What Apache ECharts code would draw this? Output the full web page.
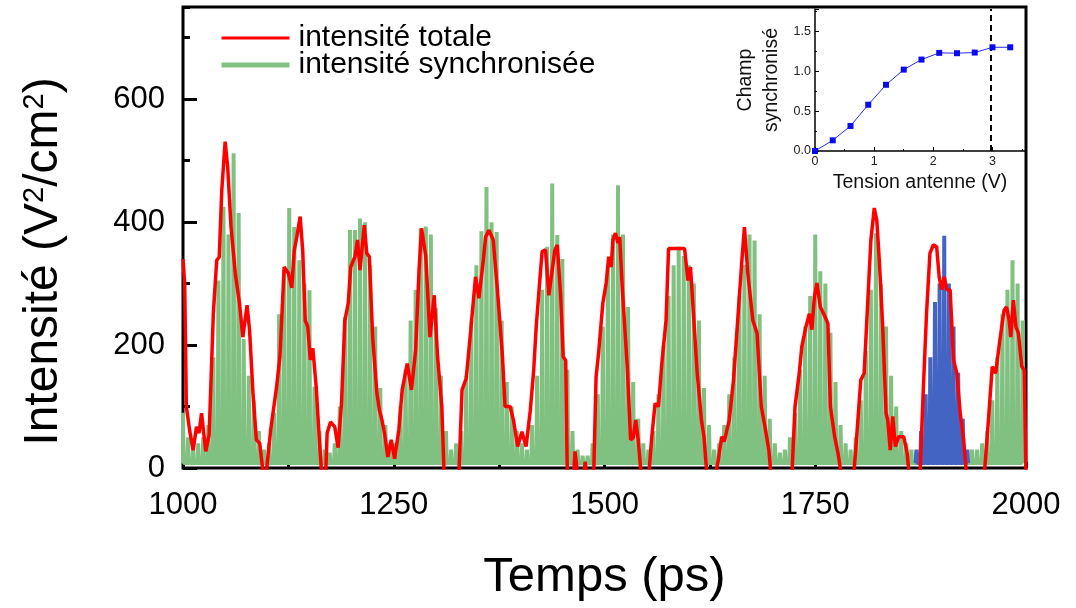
<!DOCTYPE html>
<html><head><meta charset="utf-8">
<script src="https://cdn.jsdelivr.net/npm/echarts@6/dist/echarts.min.js"></script>
<style>html,body{margin:0;padding:0;background:#fff}#c{width:1076px;height:608px}</style>
</head><body><div id="c"></div>
<script>
// ---------- main chart data ----------
const redTime = [1000,1002,1004,1008,1012,1016,1019,1022,1027,1031,1036,1040,1043,1046,1050,1053,1057,1062,1067,1071,1076,1079,1083,1087,1091,1095,1099,1104,1111,1115,1120,1125,1129,1132,1135,1139,1142,1145,1148,1151,1154,1158,1162,1165,1169,1171,1175,1180,1184,1188,1192,1196,1199,1204,1207,1210,1215,1218,1221,1225,1230,1233,1236,1239,1243,1247,1251,1256,1260,1266,1271,1276,1280,1283,1288,1293,1298,1302,1307,1310,1327,1331,1336,1341,1347,1351,1356,1359,1363,1368,1373,1379,1382,1388,1392,1397,1402,1407,1412,1416,1419,1423,1426,1430,1434,1438,1441,1444,1448,1451,1454,1456,1463,1465,1469,1475,1477,1480,1487,1490,1493,1498,1502,1505,1508,1510,1513,1516,1518,1521,1527,1531,1534,1537,1540,1544,1552,1556,1560,1564,1568,1573,1576,1595,1599,1602,1605,1610,1615,1618,1622,1630,1635,1639,1642,1648,1653,1658,1663,1666,1670,1676,1681,1686,1691,1695,1698,1722,1726,1731,1734,1739,1743,1746,1749,1752,1756,1760,1765,1768,1773,1777,1782,1795,1798,1804,1808,1812,1816,1820,1823,1826,1830,1834,1836,1839,1842,1845,1849,1855,1859,1862,1874,1878,1882,1886,1890,1894,1897,1900,1903,1906,1910,1914,1918,1922,1926,1930,1950,1954,1960,1964,1969,1974,1977,1980,1982,1985,1988,1991,1995,1998,2000];
const redValue = [340,300,100,60,29,67,57,89,27,54,252,338,343,452,531,490,392,317,268,213,265,224,122,46,40,-8,-5,62,132,181,327,317,293,354,376,409,354,240,230,176,195,132,40,-20,-20,57,75,67,33,105,240,268,327,344,371,322,395,349,344,213,122,94,78,57,18,46,15,62,127,170,127,192,322,390,344,213,281,181,100,-20,-20,127,146,219,311,276,335,376,387,371,289,181,100,100,78,35,59,35,94,159,230,301,352,355,281,322,354,363,279,181,175,-20,-20,27,-20,-20,10,-20,-20,148,187,268,301,344,327,371,382,366,376,295,165,46,49,78,46,-20,-20,49,105,100,170,240,357,357,305,327,262,154,78,51,-20,-20,13,51,43,78,143,240,338,392,317,240,219,100,62,29,-20,-20,100,154,197,230,251,225,279,301,262,251,235,100,51,24,-20,-20,29,143,154,262,371,423,403,338,230,89,78,29,84,35,51,51,24,-20,-20,122,251,349,363,360,311,290,311,290,290,176,154,89,46,-20,-20,51,165,154,208,257,262,240,213,273,230,219,165,159,-20];

const greenStart = 1000;   // ps, first spike
const greenStep = 6;       // ps between spikes
const greenTrough = 8;     // floor between spikes
const greenPeaks = [
  // 1000 - 1054
  90,50,30,40,50,70,180,305,425,380,
  // 1060 - 1114
  512,415,210,150,110,60,30,40,90,250,
  // 1120 - 1174
  322,423,392,338,300,289,132,60,30,25,
  // 1180 - 1234
  40,100,246,387,387,406,400,330,230,130,
  // 1240 - 1294
  70,40,40,100,160,240,290,390,393,380,
  // 1300 - 1354
  260,150,60,30,40,60,150,240,330,385,
  // 1360 - 1414
  457,400,384,240,140,100,60,40,30,70,
  // 1420 - 1474
  150,290,360,463,379,340,160,60,30,20,
  // 1480 - 1534
  20,40,120,230,330,380,460,380,262,140,
  // 1540 - 1594
  80,40,30,60,120,200,280,330,360,345,
  // 1600 - 1654
  330,300,240,130,70,30,40,70,120,180,
  // 1660 - 1714
  280,330,380,370,250,150,80,40,25,30,
  // 1720 - 1774
  50,90,160,230,280,380,320,300,220,140,
  // 1780 - 1834
  70,40,30,50,110,190,290,382,300,230,
  // 1840 - 1894
  150,100,60,40,30,25,12,12,12,12,
  // 1900 - 1954
  12,12,12,12,12,12,30,30,40,60,
  // 1960 - 1996
  110,180,250,290,338,300,240
];

const blueStart = 1870;
const blueStep = 5.5;
const blueTrough = 8;
const bluePeaks = [30,60,120,180,270,300,378,300,230,155,80,30];

const spikeHalfWidth = 0.8;  // ps, half width of one oscillation spike
const xTickStep = 250;
const yTickStep = 200;

// ---------- inset data ----------
const insetVoltage = [0,0.3,0.6,0.9,1.2,1.5,1.8,2.1,2.4,2.7,3.0,3.3];
const insetField = [0,0.134,0.314,0.58,0.83,1.02,1.146,1.23,1.226,1.234,1.30,1.30];
const insetThreshold = 2.97;

// ---------- build series data ----------
function spikes(start, step, peaks, trough) {
  const out = [];
  peaks.forEach((p, i) => {
    const t = start + i * step;
    out.push([t - spikeHalfWidth, trough]);
    out.push([t, p]);
    out.push([t + spikeHalfWidth, trough]);
  });
  return out;
}
const redData = redTime.map((t, i) => [t, redValue[i]]);
const greenData = spikes(greenStart, greenStep, greenPeaks, greenTrough);
const blueData = spikes(blueStart, blueStep, bluePeaks, blueTrough);
const insetData = insetVoltage.map((v, i) => [v, insetField[i]]);

const FONT = '"Liberation Sans", Arial, Helvetica, sans-serif';
const chart = echarts.init(document.getElementById('c'));
chart.setOption({
  animation: false,
  textStyle: { fontFamily: FONT },
  grid: [
    { left: 183, right: 50, top: 7, bottom: 140, show: true, borderColor: '#000', borderWidth: 3, backgroundColor: 'transparent' },
    { left: 815, right: 51, top: 9, bottom: 457 }
  ],
  legend: {
    left: 219, top: 23, orient: 'vertical', padding: 0, itemGap: -3,
    itemWidth: 68, itemHeight: 14,
    itemStyle: { opacity: 0, borderWidth: 0 },
    data: [
      { name: 'intensité totale', lineStyle: { width: 3, color: '#ff0000' } },
      { name: 'intensité synchronisée', lineStyle: { width: 5, color: '#80c080' } }
    ],
    textStyle: { fontSize: 30, color: '#000', padding: [0, 0, 0, 4] }
  },
  xAxis: [
    {
      gridIndex: 0, type: 'value', min: 1000, max: 2000, interval: xTickStep,
      axisLine: { show: false },
      axisTick: { inside: true, length: 6, lineStyle: { width: 3, color: '#000' } },
      minorTick: { show: true, splitNumber: 2, length: 6, lineStyle: { width: 3, color: '#000' } },
      splitLine: { show: false },
      axisLabel: { fontSize: 31, color: '#000', margin: 22, formatter: v => String(v) },
      name: 'Temps (ps)', nameLocation: 'middle', nameGap: 85,
      nameTextStyle: { fontSize: 49, color: '#000' }
    },
    {
      gridIndex: 1, type: 'value', min: 0, max: 3.55, interval: 1,
      axisLine: { show: true, lineStyle: { color: '#000', width: 1.5 } },
      axisTick: { inside: true, length: 4, lineStyle: { color: '#000' } },
      minorTick: { show: true, splitNumber: 2, length: 2, lineStyle: { color: '#000' } },
      splitLine: { show: false },
      axisLabel: { fontSize: 12.5, color: '#222', margin: 4, showMaxLabel: false },
      name: 'Tension antenne (V)', nameLocation: 'middle', nameGap: 22,
      nameTextStyle: { fontSize: 19.5, color: '#111' }
    }
  ],
  yAxis: [
    {
      gridIndex: 0, type: 'value', position: 'left', min: 0, max: 750, interval: yTickStep,
      axisLine: { show: false },
      axisTick: { inside: true, length: 14, lineStyle: { width: 3, color: '#000' } },
      splitLine: { show: false },
      axisLabel: { fontSize: 31, color: '#000', margin: 18, showMaxLabel: false },
      name: 'Intensité (V{s|2}/cm{s|2})', nameLocation: 'middle', nameGap: 115,
      nameTextStyle: { fontSize: 48, color: '#000', padding: [0, 48, 0, 0], rich: { s: { fontSize: 29, verticalAlign: 'top', padding: [0, 0, 19, 0] } } }
    },
    {
      gridIndex: 0, type: 'value', position: 'left', min: 0, max: 750, interval: yTickStep / 2,
      axisLine: { show: false },
      axisTick: { inside: true, length: 7, lineStyle: { width: 3, color: '#000' } },
      splitLine: { show: false },
      axisLabel: { show: false }
    },
    {
      gridIndex: 1, type: 'value', min: 0, max: 1.78, interval: 0.5,
      axisLine: { show: true, lineStyle: { color: '#000', width: 1.5 } },
      axisTick: { inside: true, length: 4, lineStyle: { color: '#000' } },
      minorTick: { show: true, splitNumber: 2, length: 2, lineStyle: { color: '#000' } },
      splitLine: { show: false },
      axisLabel: { fontSize: 12.5, color: '#222', margin: 4, showMaxLabel: false, formatter: v => v.toFixed(1) },
      name: 'Champ\nsynchronisé', nameLocation: 'middle', nameGap: 30, nameRotate: 90,
      nameTextStyle: { fontSize: 19.5, color: '#111', lineHeight: 26, align: 'center' }
    }
  ],
  series: [
    {
      name: 'intensité synchronisée', type: 'line', xAxisIndex: 0, yAxisIndex: 0,
      data: greenData, symbol: 'none', z: 2,
      color: '#80c080', lineStyle: { color: '#80c080', width: 4 }
    },
    {
      name: 'blue', type: 'line', xAxisIndex: 0, yAxisIndex: 0,
      data: blueData, symbol: 'none', z: 3,
      color: '#4464c4', lineStyle: { color: '#4464c4', width: 4 }
    },
    {
      name: 'intensité totale', type: 'line', xAxisIndex: 0, yAxisIndex: 0,
      data: redData, symbol: 'none', z: 4,
      color: '#ff0000', lineStyle: { color: '#ff0000', width: 3.5 }
    },
    {
      name: 'inset', type: 'line', xAxisIndex: 1, yAxisIndex: 2,
      data: insetData, symbol: 'rect', symbolSize: 6, z: 5,
      color: '#0a0aee', itemStyle: { color: '#0a0aee' }, lineStyle: { color: '#2a2aff', width: 1 },
      markLine: {
        silent: true, symbol: 'none', label: { show: false },
        lineStyle: { type: [6, 4], color: '#000', width: 2 },
        data: [{ xAxis: insetThreshold }]
      }
    }
  ]
});
</script>
</body></html>
